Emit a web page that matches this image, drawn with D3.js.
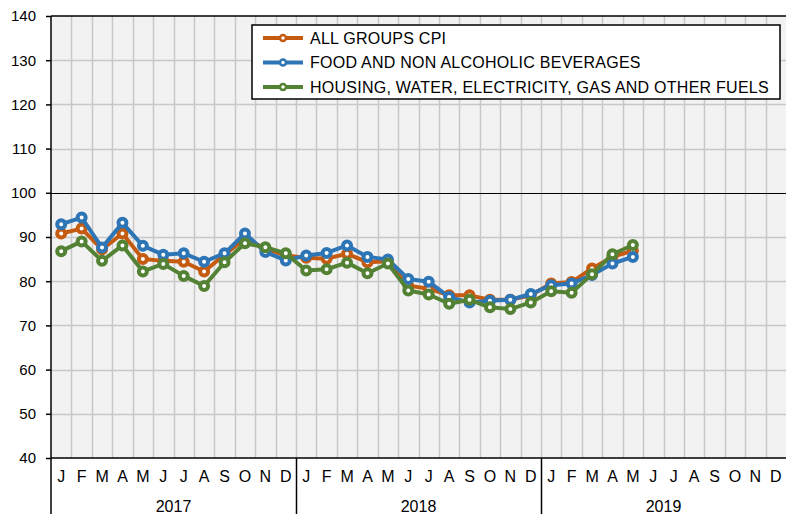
<!DOCTYPE html>
<meta charset="utf-8">
<script src="https://d3js.org/d3.v7.min.js"></script>
<style>
  body { margin: 0; background: #fff; }
  text { font-family: "Liberation Sans", Arial, sans-serif; }
</style>
<div id="chart"></div>
<script>

  // data: monthly index values, Jan 2017 - May 2019
  var years = ["2017", "2018", "2019"];
  var monthLetters = ["J","F","M","A","M","J","J","A","S","O","N","D"];
  var yTicks = [40, 50, 60, 70, 80, 90, 100, 110, 120, 130, 140];

  var allGroups = [90.8, 91.9, 87.2, 90.8, 85.0, 84.6, 84.4, 82.2, 86.0, 89.6, 87.4, 85.8,
                   85.3, 85.1, 86.2, 84.3, 84.5, 79.0, 78.3, 76.8, 76.8, 75.8, 75.8, 76.8,
                   79.5, 79.8, 82.9, 85.5, 86.9];
  var food =      [92.9, 94.4, 87.6, 93.2, 88.0, 86.0, 86.3, 84.4, 86.3, 90.8, 86.6, 84.7,
                   85.8, 86.4, 88.1, 85.5, 84.9, 80.5, 79.9, 76.4, 75.2, 75.6, 75.8, 77.1,
                   79.1, 79.5, 81.4, 84.0, 85.5];
  var housing =   [86.8, 89.0, 84.6, 88.1, 82.2, 83.9, 81.2, 78.9, 84.3, 88.6, 87.7, 86.3,
                   82.4, 82.7, 84.2, 81.8, 84.0, 77.9, 77.0, 74.9, 75.8, 74.1, 73.7, 75.2,
                   77.7, 77.4, 81.6, 86.1, 88.2];

  var seriesNames = ["ALL GROUPS CPI", "FOOD AND NON ALCOHOLIC BEVERAGES",
                     "HOUSING, WATER, ELECTRICITY, GAS AND OTHER FUELS"];
  var seriesColors = ["#c55a11", "#2e75b6", "#548235"];
  var seriesValues = [allGroups, food, housing];

  var W = 787, H = 514;
  var plotLeft = 51, plotRight = 786, plotTop = 16, plotBottom = 458;

  var svg = d3.select("#chart").append("svg")
    .attr("width", W).attr("height", H);

  // month keys for the band scale
  var months = [];
  years.forEach(function (y) {
    monthLetters.forEach(function (m, i) { months.push(y + "-" + i); });
  });

  var x = d3.scaleBand().domain(months).range([plotLeft, plotRight]);
  var y = d3.scaleLinear().domain([40, 140]).range([plotBottom, plotTop]);

  // plot background
  svg.append("rect")
    .attr("x", plotLeft).attr("y", plotTop)
    .attr("width", plotRight - plotLeft).attr("height", plotBottom - plotTop)
    .attr("fill", "#f2f2f2");

  // vertical gridlines at month boundaries
  svg.append("g").selectAll("line")
    .data(months.slice(1))
    .enter().append("line")
    .attr("x1", function (d) { return Math.round(x(d)) + 0.5; })
    .attr("x2", function (d) { return Math.round(x(d)) + 0.5; })
    .attr("y1", plotTop).attr("y2", plotBottom)
    .attr("stroke", "#c8c8c8").attr("stroke-width", 1.5);

  // horizontal gridlines
  svg.append("g").selectAll("line")
    .data(yTicks.slice(1, -1))
    .enter().append("line")
    .attr("x1", plotLeft).attr("x2", plotRight)
    .attr("y1", function (d) { return Math.round(y(d)) + 0.5; })
    .attr("y2", function (d) { return Math.round(y(d)) + 0.5; })
    .attr("stroke", function (d) { return d === 100 ? "#000" : "#c8c8c8"; })
    .attr("stroke-width", function (d) { return d === 100 ? 1 : 1.5; });

  // top border
  svg.append("line")
    .attr("x1", plotLeft).attr("x2", plotRight)
    .attr("y1", plotTop).attr("y2", plotTop)
    .attr("stroke", "#000").attr("stroke-width", 1.5);

  // y axis
  var yAxis = svg.append("g")
    .attr("transform", "translate(" + plotLeft + ",0)")
    .call(d3.axisLeft(y).tickValues(yTicks).tickSize(5).tickPadding(10));
  yAxis.select(".domain").remove();
  yAxis.selectAll("line").attr("stroke", "#000").attr("stroke-width", 1.5);
  yAxis.selectAll("text").style("font-size", "15px").attr("fill", "#000")
    .style("font-family", "'Liberation Sans', Arial, sans-serif");

  // left axis line, runs down through the category labels
  svg.append("line")
    .attr("x1", plotLeft).attr("x2", plotLeft)
    .attr("y1", plotTop).attr("y2", H)
    .attr("stroke", "#000").attr("stroke-width", 1.5);

  // x axis (month letters)
  var xAxis = svg.append("g")
    .attr("transform", "translate(0," + plotBottom + ")")
    .call(d3.axisBottom(x).tickSize(0).tickPadding(13)
      .tickFormat(function (d) { return monthLetters[+d.split("-")[1]]; }));
  xAxis.select(".domain").remove();
  xAxis.selectAll("text").style("font-size", "16px").attr("fill", "#000")
    .style("font-family", "'Liberation Sans', Arial, sans-serif");

  svg.append("line")
    .attr("x1", plotLeft).attr("x2", plotRight)
    .attr("y1", plotBottom).attr("y2", plotBottom)
    .attr("stroke", "#000").attr("stroke-width", 1.5);

  // year separators and labels
  years.forEach(function (yr, i) {
    var x0 = x(yr + "-0");
    if (i > 0) {
      svg.append("line")
        .attr("x1", Math.round(x0) + 0.5).attr("x2", Math.round(x0) + 0.5)
        .attr("y1", plotBottom).attr("y2", H)
        .attr("stroke", "#000").attr("stroke-width", 1.5);
    }
    svg.append("text")
      .attr("x", x0 + x.bandwidth() * 6)
      .attr("y", 512)
      .attr("text-anchor", "middle")
      .style("font-size", "16px")
      .text(yr);
  });

  // lines and markers
  var line = d3.line()
    .x(function (d, i) { return x(months[i]) + x.bandwidth() / 2; })
    .y(function (d) { return y(d); });

  seriesValues.forEach(function (vals, s) {
    var g = svg.append("g");
    g.append("path")
      .datum(vals)
      .attr("d", line)
      .attr("fill", "none")
      .attr("stroke", seriesColors[s])
      .attr("stroke-width", 4)
      .attr("stroke-linejoin", "round");
    g.selectAll("circle")
      .data(vals)
      .enter().append("circle")
      .attr("cx", function (d, i) { return x(months[i]) + x.bandwidth() / 2; })
      .attr("cy", function (d) { return y(d); })
      .attr("r", 4)
      .attr("fill", "#fff")
      .attr("stroke", seriesColors[s])
      .attr("stroke-width", 4);
  });

  // legend
  var legend = svg.append("g");
  legend.append("rect")
    .attr("x", 252).attr("y", 25)
    .attr("width", 528).attr("height", 74)
    .attr("fill", "#fff")
    .attr("stroke", "#000").attr("stroke-width", 1.5);

  seriesNames.forEach(function (name, s) {
    var ly = 38 + s * 24.5;
    legend.append("line")
      .attr("x1", 263).attr("x2", 303)
      .attr("y1", ly).attr("y2", ly)
      .attr("stroke", seriesColors[s]).attr("stroke-width", 4);
    legend.append("circle")
      .attr("cx", 283).attr("cy", ly).attr("r", 3)
      .attr("fill", "#fff")
      .attr("stroke", seriesColors[s]).attr("stroke-width", 2.5);
    legend.append("text")
      .attr("x", 310).attr("y", ly)
      .attr("dy", "0.36em")
      .style("font-size", "16px")
      .style("letter-spacing", "0.25px")
      .text(name);
  });

</script>
